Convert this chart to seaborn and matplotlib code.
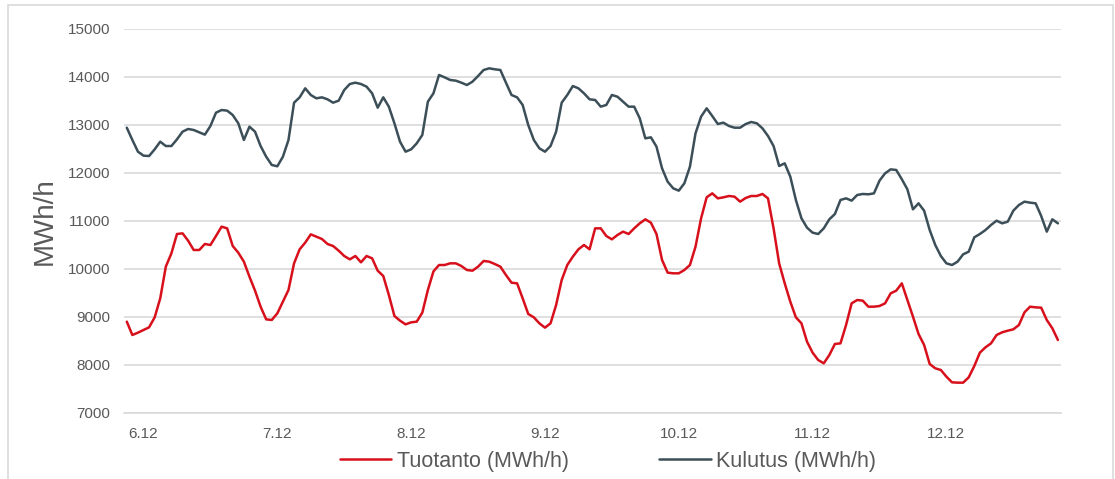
import matplotlib
matplotlib.use("Agg")
import matplotlib.pyplot as plt
import numpy as np
import pandas as pd
import seaborn as sns
from matplotlib.patches import Rectangle

# Hourly values, 168 hours (6.12 - 12.12)
tuotanto = [
    8903, 8625, 8674, 8729, 8785, 8993, 9389, 10049, 10326, 10729, 10743, 10590,
    10396, 10396, 10521, 10500, 10688, 10882, 10847, 10479, 10340, 10153, 9840, 9549,
    9215, 8951, 8938, 9076, 9319, 9563, 10118, 10410, 10549, 10722, 10674, 10625,
    10521, 10479, 10382, 10271, 10201, 10271, 10139, 10271, 10222, 9965, 9854, 9458,
    9021, 8924, 8847, 8889, 8903, 9090, 9563, 9950, 10083, 10083, 10118, 10118,
    10063, 9979, 9965, 10049, 10167, 10153, 10104, 10049, 9875, 9715, 9701, 9389,
    9063, 8993, 8868, 8778, 8868, 9250, 9771, 10083, 10257, 10410, 10500, 10410,
    10847, 10847, 10688, 10618, 10708, 10778, 10729, 10847, 10951, 11035, 10965, 10729,
    10188, 9924, 9910, 9910, 9979, 10083, 10465, 11056, 11493, 11576, 11472, 11493,
    11521, 11507, 11403, 11480, 11521, 11521, 11563, 11472, 10847, 10118, 9701, 9319,
    8993, 8868, 8486, 8257, 8104, 8035, 8208, 8438, 8451, 8833, 9285, 9354,
    9340, 9215, 9215, 9229, 9285, 9493, 9549, 9701, 9354, 9007, 8646, 8417,
    8021, 7931, 7896, 7757, 7639, 7632, 7632, 7743, 7979, 8257, 8368, 8451,
    8625, 8681, 8715, 8743, 8833, 9097, 9215, 9201, 9194, 8938, 8764, 8521,
]
kulutus = [
    12944, 12688, 12444, 12361, 12354, 12493, 12653, 12562, 12562, 12701, 12861, 12917,
    12896, 12847, 12799, 12979, 13257, 13312, 13299, 13208, 13035, 12688, 12965, 12861,
    12562, 12340, 12167, 12140, 12340, 12688, 13465, 13576, 13764, 13625, 13556, 13576,
    13535, 13465, 13507, 13729, 13854, 13882, 13854, 13799, 13660, 13361, 13576, 13382,
    13035, 12653, 12444, 12493, 12618, 12792, 13486, 13660, 14042, 13993, 13938, 13924,
    13882, 13833, 13903, 14021, 14146, 14181, 14160, 14146, 13882, 13625, 13576, 13417,
    13000, 12688, 12514, 12444, 12562, 12861, 13465, 13625, 13812, 13764, 13660, 13535,
    13521, 13382, 13417, 13625, 13590, 13486, 13382, 13382, 13139, 12722, 12743, 12549,
    12097, 11819, 11681, 11632, 11785, 12132, 12826, 13174, 13347, 13188, 13021, 13049,
    12979, 12944, 12944, 13020, 13063, 13035, 12931, 12771, 12562, 12146, 12201, 11924,
    11438, 11056, 10861, 10757, 10729, 10847, 11035, 11146, 11438, 11472, 11424, 11542,
    11563, 11556, 11576, 11840, 11993, 12076, 12063, 11870, 11660, 11243, 11368, 11215,
    10812, 10500, 10271, 10118, 10083, 10153, 10306, 10361, 10660, 10729, 10812, 10917,
    11007, 10951, 10986, 11215, 11333, 11403, 11382, 11368, 11104, 10778, 11035, 10951,
]
day_labels = ["6.12", "7.12", "8.12", "9.12", "10.12", "11.12", "12.12"]
series_names = ["Tuotanto (MWh/h)", "Kulutus (MWh/h)"]

hours = np.arange(len(tuotanto))
df = pd.DataFrame({
    "hour": np.concatenate([hours, hours]),
    "value": tuotanto + kulutus,
    "series": [series_names[0]] * len(tuotanto) + [series_names[1]] * len(kulutus),
})

sns.set_style("white")
plt.rcParams["font.family"] = ["Liberation Sans", "DejaVu Sans"]

fig = plt.figure(figsize=(11.15, 4.79), dpi=100)
ax = fig.add_axes([124 / 1115, 1 - 413 / 479, (1061 - 124) / 1115, (413 - 29) / 479])

palette = {series_names[0]: "#d7101c", series_names[1]: "#3c4f59"}
sns.lineplot(data=df, x="hour", y="value", hue="series", palette=palette,
             linewidth=1.8, ax=ax, legend=False)

ax.set_ylim(7000, 15000)
ax.set_yticks(np.arange(7000, 15001, 1000))
ax.set_xlim(-0.4, len(tuotanto) - 0.45)
ax.set_xticks(3 + 24 * np.arange(len(day_labels)))
ax.set_xticklabels(day_labels)
ax.set_xticks(np.arange(-0.5, len(tuotanto), 1), minor=True)

ax.grid(axis="y", color="#d9d9d9", linewidth=1.2)
ax.set_axisbelow(True)
for side in ["top", "right", "left"]:
    ax.spines[side].set_visible(False)
ax.spines["bottom"].set_color("#d9d9d9")
ax.spines["bottom"].set_linewidth(1.2)

ax.tick_params(axis="y", length=0, pad=10, labelsize=11, labelcolor="#595959")
ax.tick_params(axis="x", which="major", length=0, pad=10, labelsize=11, labelcolor="#595959")
ax.tick_params(axis="x", which="minor", length=3.5, width=1, color="#d9d9d9")

ax.set_xlabel("")
ax.set_ylabel("MWh/h", fontsize=20, color="#595959", labelpad=7)

handles = [plt.Line2D([], [], color=palette[n], linewidth=1.8) for n in series_names]
fig.legend(handles, series_names, loc="center", bbox_to_anchor=(608 / 1115, 1 - 461 / 479),
           ncol=2, frameon=False, fontsize=15.5, handlelength=2.4, handletextpad=0.25,
           columnspacing=4.2, labelcolor="#595959")

fig.patches.append(Rectangle((8 / 1115, -0.05), (1113 - 8) / 1115, 1.05 - 5 / 479,
                             transform=fig.transFigure, fill=False,
                             edgecolor="#d9d9d9", linewidth=1.2))

fig.savefig("out.png", dpi=100)
